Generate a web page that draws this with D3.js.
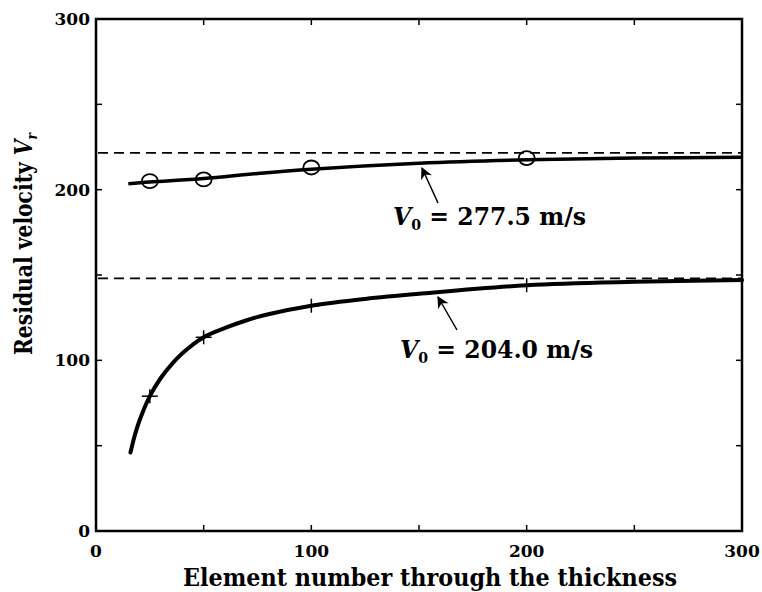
<!DOCTYPE html>
<html>
<head>
<meta charset="utf-8">
<script src="https://cdn.jsdelivr.net/npm/d3@7"></script>
<style>
  body { margin: 0; background: #fff; }
  text { font-family: "DejaVu Serif", "Liberation Serif", serif; font-weight: bold; fill: #000; }
</style>
</head>
<body>
<svg id="chart" width="762" height="592"></svg>
<script>
// upper curve (V0 = 277.5 m/s)
var upperN = [15, 25, 50, 75, 100, 150, 200, 250, 300]
var upperV = [203.5, 204.5, 206.5, 209.5, 212, 215.5, 217.5, 218.5, 219]
var upperMarkN = [25, 50, 100, 200]
var upperMarkV = [205, 206, 213, 218.5]
var upperLimit = 221.5

// lower curve (V0 = 204.0 m/s)
var lowerN = [16, 18, 20, 25, 30, 35, 40, 50, 60, 70, 80, 100, 125, 150, 200, 250, 300]
var lowerV = [46, 56, 64, 79, 89.5, 97.5, 104, 113.5, 119, 123.5, 127, 132, 136, 139, 144, 146, 147]
var lowerMarkN = [25, 50, 100, 200]
var lowerMarkV = [79, 113.5, 132, 144]
var lowerLimit = 148

var xTicks = [0, 100, 200, 300]
var yTicks = [0, 100, 200, 300]
var minorTicks = [50, 150, 250]

const svg = d3.select("#chart")
const plotL = 96, plotR = 742, plotT = 19, plotB = 531

const x = d3.scaleLinear().domain([0, 300]).range([plotL, plotR])
const y = d3.scaleLinear().domain([0, 300]).range([plotB, plotT])

// frame
svg.append("rect")
    .attr("x", plotL).attr("y", plotT)
    .attr("width", plotR - plotL).attr("height", plotB - plotT)
    .attr("fill", "none").attr("stroke", "#000").attr("stroke-width", 2.5)

// ticks on all sides, inward
var allTicks = xTicks.concat(minorTicks).filter(d => d > 0 && d < 300)
allTicks.forEach(function (t) {
    var tl = 6
    svg.append("line").attr("x1", x(t)).attr("x2", x(t)).attr("y1", plotB).attr("y2", plotB - tl)
        .attr("stroke", "#000").attr("stroke-width", 1.5)
    svg.append("line").attr("x1", x(t)).attr("x2", x(t)).attr("y1", plotT).attr("y2", plotT + tl)
        .attr("stroke", "#000").attr("stroke-width", 1.5)
    svg.append("line").attr("x1", plotL).attr("x2", plotL + tl).attr("y1", y(t)).attr("y2", y(t))
        .attr("stroke", "#000").attr("stroke-width", 1.5)
    svg.append("line").attr("x1", plotR).attr("x2", plotR - tl).attr("y1", y(t)).attr("y2", y(t))
        .attr("stroke", "#000").attr("stroke-width", 1.5)
})

// tick labels
svg.append("g").selectAll("text").data(xTicks).enter().append("text")
    .attr("x", d => x(d)).attr("y", plotB + 26)
    .attr("text-anchor", "middle").style("font-size", "17px")
    .text(d => d)
svg.append("g").selectAll("text").data(yTicks).enter().append("text")
    .attr("x", plotL - 6).attr("y", d => y(d) + 6)
    .attr("text-anchor", "end").style("font-size", "17px")
    .text(d => d)

// axis titles
svg.append("text")
    .attr("x", 430).attr("y", 586)
    .attr("text-anchor", "middle").style("font-size", "25px")
    .attr("textLength", 494).attr("lengthAdjust", "spacingAndGlyphs")
    .text("Element number through the thickness")

var yl = svg.append("text")
    .attr("transform", "translate(32,244) rotate(-90)")
    .attr("text-anchor", "middle").style("font-size", "25px")
    .attr("textLength", 222).attr("lengthAdjust", "spacingAndGlyphs")
yl.append("tspan").text("Residual velocity ")
yl.append("tspan").style("font-style", "italic").text("V")
yl.append("tspan").attr("dy", 5).style("font-size", "15px").style("font-style", "italic").text("r")

// dashed limits
;[upperLimit, lowerLimit].forEach(function (v) {
    svg.append("line")
        .attr("x1", plotL + 2).attr("x2", plotR)
        .attr("y1", y(v)).attr("y2", y(v))
        .attr("stroke", "#000").attr("stroke-width", 1.8)
        .attr("stroke-dasharray", "10,6")
})

const line = d3.line().x(d => x(d[0])).y(d => y(d[1])).curve(d3.curveCatmullRom.alpha(0.5))

svg.append("path")
    .datum(upperN.map((n, i) => [n, upperV[i]]))
    .attr("d", line).attr("fill", "none").attr("stroke", "#000").attr("stroke-width", 3.5)
svg.append("path")
    .datum(lowerN.map((n, i) => [n, lowerV[i]]))
    .attr("d", line).attr("fill", "none").attr("stroke", "#000").attr("stroke-width", 4)
    .attr("stroke-linecap", "round")

// circle markers
svg.append("g").selectAll("ellipse")
    .data(upperMarkN.map((n, i) => [n, upperMarkV[i]]))
    .enter().append("ellipse")
    .attr("cx", d => x(d[0])).attr("cy", d => y(d[1]))
    .attr("rx", 8).attr("ry", 7)
    .attr("fill", "none").attr("stroke", "#000").attr("stroke-width", 1.8)

// plus markers
var plus = svg.append("g").selectAll("g")
    .data(lowerMarkN.map((n, i) => [n, lowerMarkV[i]]))
    .enter().append("g")
    .attr("transform", d => `translate(${x(d[0])},${y(d[1])})`)
plus.append("line").attr("x1", -8).attr("x2", 8).attr("stroke", "#000").attr("stroke-width", 1.5)
plus.append("line").attr("y1", -7).attr("y2", 7).attr("stroke", "#000").attr("stroke-width", 1.5)

// arrows + labels
svg.append("defs").append("marker")
    .attr("id", "arr").attr("viewBox", "0 0 10 10")
    .attr("refX", 9).attr("refY", 5)
    .attr("markerUnits", "userSpaceOnUse")
    .attr("markerWidth", 15).attr("markerHeight", 12)
    .attr("orient", "auto")
    .append("path").attr("d", "M0,0 L10,5 L0,10 L3,5 Z").attr("fill", "#000")

var notes = [
    { x1: 438, y1: 203, x2: 422, y2: 168, tx: 393, ty: 225, label: "277.5" },
    { x1: 457, y1: 330, x2: 438, y2: 297, tx: 400, ty: 358, label: "204.0" }
]
notes.forEach(function (n) {
    svg.append("line")
        .attr("x1", n.x1).attr("y1", n.y1).attr("x2", n.x2).attr("y2", n.y2)
        .attr("stroke", "#000").attr("stroke-width", 1.5)
        .attr("marker-end", "url(#arr)")
    var t = svg.append("text").attr("x", n.tx).attr("y", n.ty).style("font-size", "25px")
        .attr("textLength", 193).attr("lengthAdjust", "spacingAndGlyphs")
    t.append("tspan").style("font-style", "italic").text("V")
    t.append("tspan").attr("dy", 5).style("font-size", "15px").text("0")
    t.append("tspan").attr("dy", -5).text(" = " + n.label + " m/s")
})
</script>
</body>
</html>
